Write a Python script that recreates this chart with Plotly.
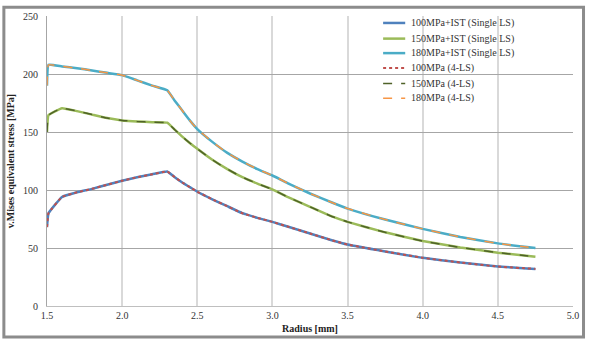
import plotly.graph_objects as go

radius = [1.5, 1.51, 1.6, 1.7, 1.8, 1.9, 2.0, 2.1, 2.2, 2.3, 2.35, 2.4, 2.45, 2.5, 2.6, 2.7,
          2.8, 2.9, 3.0, 3.1, 3.25, 3.4, 3.5, 3.75, 4.0, 4.25, 4.5, 4.75]

s100 = [68, 80, 94, 98, 101, 104.5, 108, 111, 113.5, 116, 111, 106.5, 102.5, 98.5, 92, 86,
        80, 76, 72.5, 68.5, 62.5, 56.5, 53, 47, 41.5, 37.5, 34, 32]
s150 = [150, 164.5, 170.5, 168, 165, 162, 160, 159, 158.5, 158, 152, 146, 140.5, 135.5, 126, 118,
        111, 105.5, 100.5, 94, 85.5, 77, 72.5, 63.5, 56, 50.5, 46, 42.5]
s180 = [190, 208, 206.5, 205, 203, 201, 199, 194.5, 190, 186, 177, 168.5, 160, 152.5, 141.5, 132,
        124.5, 118, 112.5, 106, 97, 89, 84, 74.5, 66.5, 59.5, 54, 50]

names = ["100MPa+IST (Single LS)", "150MPa+IST (Single LS)", "180MPa+IST (Single LS)",
         "100MPa (4-LS)", "150MPa (4-LS)", "180MPa (4-LS)"]
colors = ["#4F81BD", "#9BBB59", "#4BACC6", "#C0504D", "#4F6228", "#F79646"]
dashes = ["solid", "solid", "solid", "dot", "dash", "dash"]
series = [s100, s150, s180, s100, s150, s180]
widths = [2.5, 2.5, 2.5, 2, 1.5, 1.5]

x_ticks = [1.5, 2.0, 2.5, 3.0, 3.5, 4.0, 4.5, 5.0]
y_ticks = [0, 50, 100, 150, 200, 250]

SERIF = "Liberation Serif, Times New Roman, serif"

fig = go.Figure()
for n, c, d, s, w in zip(names, colors, dashes, series, widths):
    fig.add_trace(go.Scatter(x=radius, y=s, mode="lines", name=n, showlegend=False,
                             line=dict(color=c, width=w, dash=d, shape="spline", smoothing=0.3)))

# manual legend (compact rows like the original)
leg_rows = [0.976, 0.922, 0.872, 0.821, 0.767, 0.716]
for n, c, d, w, yy in zip(names, colors, dashes, widths, leg_rows):
    fig.add_shape(type="line", xref="paper", yref="paper", x0=0.639, x1=0.681, y0=yy, y1=yy,
                  line=dict(color=c, width=w, dash=d))
    fig.add_annotation(xref="paper", yref="paper", x=0.688, y=yy, text=n, showarrow=False,
                       xanchor="left", yanchor="middle",
                       font=dict(family=SERIF, size=10, color="#333333"))

fig.update_layout(
    width=591, height=342,
    margin=dict(l=47, r=18, t=10, b=36),
    paper_bgcolor="white", plot_bgcolor="white",
    font=dict(family=SERIF, size=10, color="#333333"),
    showlegend=False,
    xaxis=dict(range=[1.5, 5.0], tickvals=x_ticks, ticktext=[f"{v:.1f}" for v in x_ticks],
               showgrid=True, gridcolor="#d9d9d9", gridwidth=1.5,
               zeroline=False, showline=True, linecolor="#bfbfbf", linewidth=1,
               ticks="", title=dict(text="<b>Radius [mm]</b>", standoff=4,
                                    font=dict(family=SERIF, size=10, color="#222222"))),
    yaxis=dict(range=[0, 250], tickvals=y_ticks, showgrid=True, gridcolor="#a6a6a6", gridwidth=1,
               zeroline=False, showline=True, linecolor="#a6a6a6", linewidth=1,
               ticks="", ticklabelstandoff=6,
               title=dict(text="<b>v.Mises equivalent stress [MPa]</b>", standoff=6,
                          font=dict(family=SERIF, size=10, color="#222222"))),
)
fig.add_shape(type="rect", xref="paper", yref="paper", x0=-0.082, x1=1.02, y0=-0.107, y1=1.03,
              line=dict(color="#8c8c8c", width=3), layer="above")
fig.write_html("out.html")
